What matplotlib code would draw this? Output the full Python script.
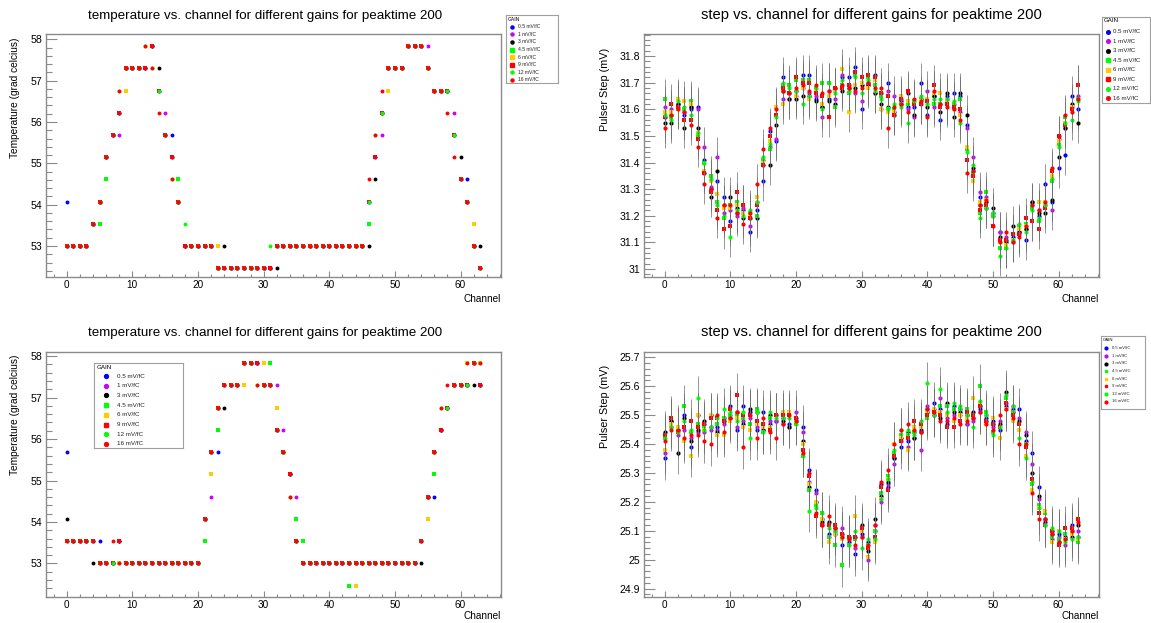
import matplotlib
matplotlib.use('Agg')
import matplotlib.pyplot as plt
from matplotlib.ticker import MultipleLocator, FuncFormatter

plt.rcParams['font.family'] = ['Liberation Sans', 'DejaVu Sans']

# ---------------- data ----------------
channels = list(range(64))
gains = ['0.5 mV/fC', '1 mV/fC', '3 mV/fC', '4.5 mV/fC', '6 mV/fC', '9 mV/fC', '12 mV/fC', '16 mV/fC']
colors = ['#0000ff', '#cc00ff', '#000000', '#00ff00', '#ffcc00', '#ff0000', '#00ff00', '#ff0000']
markers = ['o', 'o', 'o', 's', 's', 's', 'o', 'o']

# temperature (top-left), common values and per-gain deviations
temp_top_base = [53.00, 53.00, 53.00, 53.00, 53.54, 54.07, 55.15, 55.69, 56.22, 57.30,
                 57.30, 57.30, 57.30, 57.84, 56.76, 55.69, 55.15, 54.07, 53.00, 53.00,
                 53.00, 53.00, 53.00, 52.46, 52.46, 52.46, 52.46, 52.46, 52.46, 52.46,
                 52.46, 52.46, 53.00, 53.00, 53.00, 53.00, 53.00, 53.00, 53.00, 53.00,
                 53.00, 53.00, 53.00, 53.00, 53.00, 53.00, 54.07, 55.15, 56.22, 57.30,
                 57.30, 57.30, 57.84, 57.84, 57.84, 57.30, 56.76, 56.76, 56.76, 55.69,
                 54.61, 54.07, 53.00, 52.46]
temp_top_dev = [
    {0: 54.07, 16: 55.69, 61: 54.61},
    {8: 55.69, 15: 56.22, 48: 55.69, 55: 57.84, 59: 56.22},
    {14: 57.30, 24: 53.00, 32: 52.46, 46: 53.00, 47: 54.61, 60: 55.15, 63: 53.00},
    {5: 53.54, 6: 54.61, 17: 54.61, 46: 53.54},
    {9: 56.76, 23: 53.00, 49: 56.76, 62: 53.54},
    {},
    {8: 56.76, 12: 57.84, 13: 57.30, 16: 54.61, 18: 53.54, 31: 53.00, 47: 55.69},
    {8: 56.76, 12: 57.84, 13: 57.30, 14: 56.22, 16: 54.61, 46: 54.61, 47: 55.69,
     48: 56.76, 58: 56.22, 59: 55.15},
]

# temperature (bottom-left)
temp_bot_base = [53.54, 53.54, 53.54, 53.54, 53.54, 53.00, 53.00, 53.00, 53.54, 53.00,
                 53.00, 53.00, 53.00, 53.00, 53.00, 53.00, 53.00, 53.00, 53.00, 53.00,
                 53.00, 54.07, 55.69, 56.76, 57.30, 57.30, 57.30, 57.84, 57.84, 57.84,
                 57.30, 57.30, 56.22, 55.69, 55.15, 53.54, 53.00, 53.00, 53.00, 53.00,
                 53.00, 53.00, 53.00, 53.00, 53.00, 53.00, 53.00, 53.00, 53.00, 53.00,
                 53.00, 53.00, 53.00, 53.00, 53.54, 54.61, 55.69, 56.22, 56.76, 57.30,
                 57.30, 57.30, 57.84, 57.30]
temp_bot_dev = [
    {0: 55.69, 5: 53.54, 23: 55.69, 56: 54.61},
    {22: 54.61, 32: 57.30, 33: 56.22, 35: 54.61},
    {0: 54.07, 4: 53.00, 24: 56.76, 54: 53.00, 62: 57.30},
    {21: 53.54, 23: 56.22, 31: 57.84, 35: 54.07, 36: 53.54, 43: 52.46, 56: 55.15},
    {8: 53.00, 22: 55.15, 27: 57.30, 30: 57.84, 32: 56.76, 44: 52.46, 55: 54.07,
     61: 57.84, 63: 57.84},
    {},
    {8: 53.00, 29: 57.30, 34: 54.61, 57: 56.76, 63: 57.84},
    {7: 53.54, 8: 53.00, 29: 57.30, 34: 54.61, 57: 56.76, 58: 57.30, 61: 57.84, 63: 57.84},
]

# pulser step (top-right), one list per gain
step_top_05 = [31.57, 31.58, 31.62, 31.58, 31.60, 31.61, 31.41, 31.30, 31.33, 31.27,
               31.18, 31.21, 31.22, 31.14, 31.22, 31.33, 31.52, 31.48, 31.72, 31.66,
               31.67, 31.73, 31.73, 31.64, 31.61, 31.64, 31.68, 31.72, 31.72, 31.76,
               31.60, 31.70, 31.73, 31.66, 31.70, 31.59, 31.63, 31.61, 31.61, 31.70,
               31.58, 31.65, 31.56, 31.65, 31.66, 31.65, 31.54, 31.37, 31.27, 31.23,
               31.21, 31.14, 31.11, 31.12, 31.14, 31.11, 31.25, 31.20, 31.32, 31.25,
               31.38, 31.43, 31.65, 31.60]
step_top_1 = [31.61, 31.60, 31.61, 31.59, 31.61, 31.60, 31.46, 31.31, 31.42, 31.21,
              31.22, 31.20, 31.23, 31.16, 31.25, 31.41, 31.46, 31.49, 31.64, 31.64,
              31.65, 31.68, 31.66, 31.65, 31.57, 31.67, 31.64, 31.73, 31.69, 31.66,
              31.63, 31.69, 31.66, 31.60, 31.67, 31.65, 31.64, 31.60, 31.57, 31.62,
              31.67, 31.61, 31.62, 31.64, 31.62, 31.59, 31.53, 31.42, 31.29, 31.27,
              31.20, 31.14, 31.12, 31.10, 31.13, 31.15, 31.24, 31.22, 31.24, 31.22,
              31.49, 31.53, 31.61, 31.65]
step_top_3 = [31.55, 31.55, 31.62, 31.53, 31.61, 31.53, 31.36, 31.27, 31.37, 31.24,
              31.27, 31.23, 31.19, 31.19, 31.19, 31.39, 31.39, 31.54, 31.67, 31.64,
              31.64, 31.65, 31.65, 31.63, 31.61, 31.63, 31.62, 31.67, 31.68, 31.68,
              31.69, 31.69, 31.66, 31.62, 31.61, 31.58, 31.62, 31.66, 31.58, 31.64,
              31.61, 31.65, 31.59, 31.66, 31.57, 31.66, 31.58, 31.38, 31.24, 31.25,
              31.23, 31.12, 31.10, 31.16, 31.14, 31.15, 31.25, 31.21, 31.21, 31.26,
              31.42, 31.53, 31.62, 31.55]
step_top_45 = [31.64, 31.57, 31.60, 31.60, 31.63, 31.50, 31.40, 31.35, 31.25, 31.19,
               31.24, 31.25, 31.24, 31.21, 31.20, 31.41, 31.45, 31.58, 31.69, 31.69,
               31.71, 31.71, 31.71, 31.68, 31.70, 31.70, 31.61, 31.69, 31.66, 31.73,
               31.70, 31.72, 31.69, 31.65, 31.60, 31.60, 31.62, 31.62, 31.63, 31.64,
               31.63, 31.62, 31.62, 31.63, 31.62, 31.64, 31.45, 31.36, 31.21, 31.29,
               31.20, 31.08, 31.08, 31.11, 31.16, 31.17, 31.23, 31.18, 31.23, 31.33,
               31.47, 31.57, 31.60, 31.64]
step_top_6 = [31.59, 31.59, 31.64, 31.63, 31.62, 31.51, 31.37, 31.33, 31.28, 31.23,
              31.23, 31.24, 31.21, 31.20, 31.27, 31.40, 31.48, 31.61, 31.62, 31.66,
              31.65, 31.68, 31.64, 31.67, 31.62, 31.65, 31.67, 31.75, 31.59, 31.69,
              31.70, 31.68, 31.71, 31.60, 31.59, 31.59, 31.65, 31.63, 31.62, 31.63,
              31.64, 31.66, 31.66, 31.63, 31.60, 31.58, 31.46, 31.33, 31.25, 31.26,
              31.16, 31.10, 31.09, 31.11, 31.15, 31.16, 31.18, 31.25, 31.25, 31.35,
              31.48, 31.55, 31.61, 31.69]
step_top_9 = [31.57, 31.62, 31.61, 31.56, 31.56, 31.49, 31.36, 31.29, 31.22, 31.15,
              31.16, 31.29, 31.24, 31.19, 31.24, 31.39, 31.50, 31.58, 31.68, 31.66,
              31.72, 31.70, 31.70, 31.66, 31.65, 31.57, 31.68, 31.68, 31.69, 31.74,
              31.72, 31.73, 31.72, 31.66, 31.65, 31.58, 31.64, 31.67, 31.62, 31.62,
              31.63, 31.69, 31.61, 31.62, 31.61, 31.60, 31.41, 31.35, 31.22, 31.24,
              31.16, 31.11, 31.11, 31.13, 31.13, 31.19, 31.18, 31.15, 31.23, 31.37,
              31.50, 31.54, 31.60, 31.69]
step_top_12 = [31.58, 31.56, 31.63, 31.61, 31.58, 31.51, 31.40, 31.34, 31.24, 31.20,
               31.12, 31.22, 31.20, 31.22, 31.25, 31.42, 31.47, 31.57, 31.70, 31.68,
               31.67, 31.62, 31.65, 31.68, 31.60, 31.70, 31.66, 31.71, 31.67, 31.72,
               31.66, 31.71, 31.67, 31.64, 31.60, 31.62, 31.61, 31.55, 31.63, 31.65,
               31.62, 31.64, 31.64, 31.64, 31.63, 31.55, 31.44, 31.39, 31.19, 31.23,
               31.21, 31.05, 31.08, 31.11, 31.17, 31.14, 31.22, 31.19, 31.24, 31.34,
               31.46, 31.55, 31.56, 31.63]
step_top_16 = [31.53, 31.58, 31.60, 31.59, 31.54, 31.46, 31.32, 31.30, 31.19, 31.24,
               31.24, 31.21, 31.17, 31.21, 31.32, 31.45, 31.53, 31.60, 31.67, 31.66,
               31.68, 31.69, 31.67, 31.69, 31.66, 31.67, 31.68, 31.69, 31.68, 31.67,
               31.68, 31.70, 31.68, 31.68, 31.53, 31.61, 31.62, 31.59, 31.64, 31.63,
               31.57, 31.67, 31.62, 31.61, 31.60, 31.56, 31.36, 31.37, 31.24, 31.26,
               31.16, 31.10, 31.14, 31.10, 31.12, 31.16, 31.24, 31.22, 31.25, 31.38,
               31.50, 31.58, 31.59, 31.64]
step_top_err = 0.075

# pulser step (bottom-right)
step_bot_05 = [25.35, 25.48, 25.45, 25.50, 25.39, 25.50, 25.47, 25.46, 25.46, 25.49,
               25.53, 25.45, 25.53, 25.51, 25.45, 25.51, 25.47, 25.48, 25.49, 25.47,
               25.49, 25.46, 25.31, 25.24, 25.14, 25.09, 25.09, 25.05, 25.06, 25.02,
               25.09, 25.06, 25.10, 25.26, 25.25, 25.35, 25.39, 25.41, 25.44, 25.45,
               25.52, 25.54, 25.52, 25.47, 25.53, 25.52, 25.47, 25.49, 25.52, 25.49,
               25.48, 25.45, 25.53, 25.52, 25.52, 25.41, 25.37, 25.25, 25.13, 25.09,
               25.09, 25.07, 25.12, 25.08]
step_bot_1 = [25.37, 25.46, 25.43, 25.45, 25.42, 25.44, 25.44, 25.45, 25.45, 25.47,
              25.50, 25.46, 25.48, 25.49, 25.46, 25.45, 25.48, 25.48, 25.47, 25.46,
              25.51, 25.44, 25.27, 25.23, 25.12, 25.08, 25.10, 25.11, 25.07, 25.04,
              25.08, 25.00, 25.12, 25.20, 25.26, 25.33, 25.41, 25.39, 25.42, 25.38,
              25.53, 25.52, 25.56, 25.49, 25.50, 25.50, 25.47, 25.48, 25.51, 25.50,
              25.46, 25.48, 25.54, 25.53, 25.49, 25.44, 25.33, 25.21, 25.12, 25.07,
              25.08, 25.05, 25.10, 25.10]
step_bot_3 = [25.44, 25.48, 25.37, 25.49, 25.41, 25.45, 25.48, 25.50, 25.44, 25.48,
              25.49, 25.51, 25.47, 25.52, 25.51, 25.45, 25.50, 25.50, 25.48, 25.46,
              25.48, 25.41, 25.25, 25.20, 25.13, 25.13, 25.11, 25.09, 25.08, 25.08,
              25.12, 25.03, 25.14, 25.22, 25.27, 25.35, 25.42, 25.44, 25.42, 25.44,
              25.51, 25.50, 25.49, 25.54, 25.51, 25.51, 25.50, 25.51, 25.53, 25.48,
              25.47, 25.47, 25.58, 25.51, 25.48, 25.43, 25.30, 25.22, 25.14, 25.10,
              25.06, 25.08, 25.08, 25.12]
step_bot_45 = [25.42, 25.47, 25.45, 25.53, 25.44, 25.47, 25.46, 25.49, 25.47, 25.49,
               25.50, 25.50, 25.49, 25.47, 25.52, 25.44, 25.49, 25.50, 25.50, 25.50,
               25.47, 25.36, 25.24, 25.19, 25.16, 25.08, 25.05, 24.98, 25.05, 25.07,
               25.10, 25.05, 25.10, 25.23, 25.29, 25.37, 25.43, 25.43, 25.44, 25.46,
               25.49, 25.51, 25.53, 25.53, 25.52, 25.52, 25.52, 25.50, 25.60, 25.51,
               25.44, 25.46, 25.56, 25.51, 25.47, 25.40, 25.26, 25.19, 25.16, 25.08,
               25.07, 25.09, 25.09, 25.06]
step_bot_6 = [25.38, 25.47, 25.46, 25.41, 25.36, 25.50, 25.45, 25.50, 25.43, 25.43,
              25.48, 25.49, 25.46, 25.45, 25.47, 25.46, 25.46, 25.50, 25.51, 25.51,
              25.48, 25.40, 25.26, 25.20, 25.14, 25.06, 25.09, 25.07, 25.07, 25.15,
              25.10, 25.01, 25.06, 25.21, 25.28, 25.40, 25.42, 25.38, 25.46, 25.46,
              25.51, 25.52, 25.51, 25.50, 25.48, 25.50, 25.49, 25.56, 25.54, 25.47,
              25.49, 25.42, 25.52, 25.48, 25.45, 25.36, 25.24, 25.18, 25.17, 25.06,
              25.10, 25.07, 25.09, 25.07]
step_bot_9 = [25.43, 25.49, 25.44, 25.46, 25.48, 25.46, 25.47, 25.49, 25.49, 25.48,
              25.52, 25.57, 25.50, 25.50, 25.48, 25.47, 25.45, 25.50, 25.50, 25.50,
              25.49, 25.38, 25.29, 25.15, 25.12, 25.12, 25.12, 25.09, 25.08, 25.08,
              25.11, 25.04, 25.08, 25.25, 25.24, 25.36, 25.41, 25.42, 25.48, 25.47,
              25.50, 25.51, 25.50, 25.46, 25.46, 25.48, 25.51, 25.50, 25.53, 25.48,
              25.47, 25.46, 25.54, 25.50, 25.47, 25.39, 25.28, 25.16, 25.12, 25.10,
              25.05, 25.11, 25.11, 25.14]
step_bot_12 = [25.42, 25.46, 25.44, 25.48, 25.45, 25.56, 25.45, 25.46, 25.49, 25.52,
               25.51, 25.48, 25.51, 25.42, 25.51, 25.44, 25.51, 25.49, 25.49, 25.49,
               25.47, 25.36, 25.17, 25.18, 25.16, 25.11, 25.10, 25.08, 25.05, 25.10,
               25.04, 25.07, 25.07, 25.21, 25.28, 25.38, 25.45, 25.45, 25.43, 25.48,
               25.61, 25.50, 25.59, 25.51, 25.54, 25.53, 25.50, 25.46, 25.55, 25.50,
               25.43, 25.46, 25.57, 25.53, 25.42, 25.35, 25.27, 25.18, 25.12, 25.11,
               25.10, 25.06, 25.07, 25.08]
step_bot_16 = [25.41, 25.45, 25.45, 25.42, 25.43, 25.43, 25.41, 25.40, 25.50, 25.44,
               25.49, 25.51, 25.39, 25.50, 25.42, 25.49, 25.44, 25.42, 25.47, 25.50,
               25.48, 25.37, 25.30, 25.16, 25.12, 25.15, 25.11, 25.08, 25.07, 25.05,
               25.08, 25.05, 25.12, 25.27, 25.31, 25.40, 25.45, 25.47, 25.45, 25.44,
               25.52, 25.51, 25.48, 25.48, 25.49, 25.47, 25.48, 25.49, 25.51, 25.47,
               25.45, 25.50, 25.52, 25.49, 25.40, 25.40, 25.23, 25.14, 25.14, 25.09,
               25.06, 25.07, 25.10, 25.13]
step_bot_err = 0.075

title_temp = 'temperature vs. channel for different gains for peaktime 200'
title_step = 'step vs. channel for different gains for peaktime 200'

# ---------------- figure ----------------
W, H = 1151, 623
fig = plt.figure(figsize=(W / 100, H / 100), dpi=100)
FRAME = '#8a8a8a'


def rect(x0, y0, x1, y1):
    return [x0 / W, 1 - y1 / H, (x1 - x0) / W, (y1 - y0) / H]


def style_axes(ax, ylim, ymaj, ymin, fmt, ylab_fs):
    ax.set_xlim(-3.15, 66.15)
    ax.set_ylim(*ylim)
    ax.xaxis.set_major_locator(MultipleLocator(10))
    ax.xaxis.set_minor_locator(MultipleLocator(2))
    ax.yaxis.set_major_locator(MultipleLocator(ymaj))
    ax.yaxis.set_minor_locator(MultipleLocator(ymin))
    ax.yaxis.set_major_formatter(FuncFormatter(fmt))
    for s in ax.spines.values():
        s.set_color(FRAME)
        s.set_linewidth(1.0)
    ax.tick_params(axis='y', which='major', direction='in', length=8, width=0.8,
                   color=FRAME, labelsize=ylab_fs, pad=3, right=False)
    ax.tick_params(axis='y', which='minor', direction='in', length=4, width=0.8,
                   color=FRAME, right=False)
    ax.tick_params(axis='x', which='major', direction='in', length=4.5, width=0.8,
                   color=FRAME, labelsize=7.2, pad=2.5, top=False)
    ax.tick_params(axis='x', which='minor', direction='in', length=2.5, width=0.8,
                   color=FRAME, top=False)


def draw_legend(x0, y0, x1, y1, title_xy, row0, dy, mx, tx, fs, ms):
    lax = fig.add_axes(rect(x0, y0, x1, y1))
    lax.set_xlim(x0, x1)
    lax.set_ylim(y1, y0)
    lax.set_xticks([])
    lax.set_yticks([])
    for s in lax.spines.values():
        s.set_color('#a0a0a0')
        s.set_linewidth(0.8)
    lax.text(title_xy[0], title_xy[1], 'GAIN', fontsize=fs, ha='left', va='center')
    for i, g in enumerate(gains):
        yy = row0 + i * dy
        lax.plot([mx], [yy], marker=markers[i], color=colors[i], ms=ms, ls='none')
        lax.text(tx, yy, g, fontsize=fs, ha='left', va='center', color='#222222')


def temp_panel(box, ylim, base, devs, ytop_label, chan_y, title_base):
    ax = fig.add_axes(rect(*box))
    for i in range(8):
        vals = list(base)
        for ch, v in devs[i].items():
            vals[ch] = v
        ms = 3.1 if markers[i] == 's' else 2.8
        ax.plot(channels, vals, ls='none', marker=markers[i], color=colors[i],
                ms=ms, mew=0)
    style_axes(ax, ylim, 1, 0.2, lambda v, p: f'{v:.0f}', 7.6)
    fig.text(265.5 / W, 1 - title_base / H, title_temp, fontsize=9.6, ha='center',
             va='baseline')
    fig.text(15 / W, 1 - ytop_label / H, 'Temperature (grad celcius)', rotation=90,
             fontsize=7.3, ha='center', va='top')
    fig.text(box[2] / W, 1 - chan_y / H, 'Channel', fontsize=7.2, ha='right',
             va='center')
    return ax


def step_panel(box, ylim, series, err, ytop_label, chan_y, title_base):
    ax = fig.add_axes(rect(*box))
    for i in range(8):
        ms = 3.4 if markers[i] == 's' else 3.0
        ax.errorbar(channels, series[i], yerr=err, fmt='none', ecolor='#707070',
                    elinewidth=0.6, alpha=0.85)
        ax.plot(channels, series[i], ls='none', marker=markers[i], color=colors[i],
                ms=ms, mew=0)
    style_axes(ax, ylim, 0.1, 0.02, lambda v, p: f'{round(v, 2):g}', 7.6)
    cx = (box[0] + box[2]) / 2
    fig.text(cx / W, 1 - title_base / H, title_step, fontsize=10.6, ha='center',
             va='baseline')
    fig.text(605 / W, 1 - ytop_label / H, 'Pulser Step (mV)', rotation=90,
             fontsize=7.8, ha='center', va='top')
    fig.text(box[2] / W, 1 - chan_y / H, 'Channel', fontsize=7.2, ha='right',
             va='center')
    return ax


# top-left
temp_panel((46, 34, 501, 277), (52.25, 58.13), temp_top_base, temp_top_dev, 38, 299, 19)
draw_legend(506, 15, 558, 83, (508, 19.5), 26.7, 7.6, 511.7, 518.3, 3.6, 2.2)

# bottom-left
temp_panel((46, 352, 501, 597), (52.19, 58.10), temp_bot_base, temp_bot_dev, 355, 616, 336)
draw_legend(94, 363, 183, 448, (96.7, 367.3), 376, 9.7, 106, 116.7, 4.5, 2.8)

# top-right
step_top = [step_top_05, step_top_1, step_top_3, step_top_45, step_top_6,
            step_top_9, step_top_12, step_top_16]
step_panel((644, 34, 1099, 277), (30.97, 31.883), step_top, step_top_err, 48, 299, 19)
draw_legend(1102, 17, 1150, 103, (1103.3, 20.7), 31.7, 9.5, 1108.3, 1113.3, 4.4, 2.6)

# bottom-right
step_bot = [step_bot_05, step_bot_1, step_bot_3, step_bot_45, step_bot_6,
            step_bot_9, step_bot_12, step_bot_16]
step_panel((644, 352, 1099, 597), (24.871, 25.718), step_bot, step_bot_err, 365, 616, 336)
draw_legend(1101, 336, 1145, 409, (1102.7, 340), 348.3, 7.6, 1106, 1111.7, 3.1, 2.0)

fig.savefig('out.png', dpi=100)
